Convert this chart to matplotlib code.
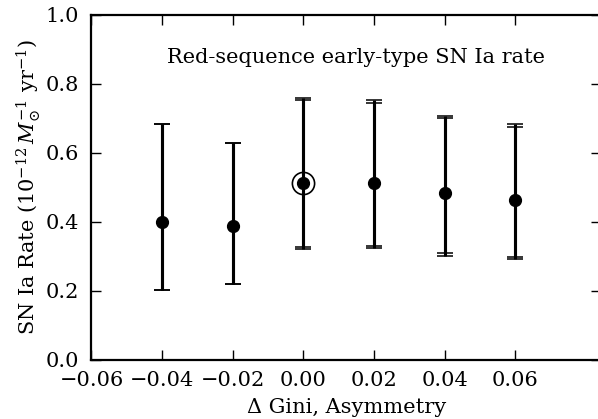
import matplotlib
matplotlib.use("Agg")
import matplotlib.pyplot as plt
import numpy as np

plt.rcParams['font.family'] = ['DejaVu Serif']
plt.rcParams['mathtext.fontset'] = 'dejavuserif'

# Data
x_vals = [-0.04, -0.02, 0.00, 0.02, 0.04, 0.06]
rate = [0.398, 0.388, 0.512, 0.511, 0.482, 0.463]
upper_a = [0.684, 0.627, 0.757, 0.753, 0.707, 0.682]
lower_a = [0.202, 0.219, 0.321, 0.322, 0.301, 0.291]
upper_b = [0.684, 0.627, 0.753, 0.745, 0.699, 0.674]
lower_b = [0.202, 0.219, 0.326, 0.330, 0.310, 0.298]
highlight_x = [0.00]
highlight_y = [0.512]

x_ticks = [-0.06, -0.04, -0.02, 0.00, 0.02, 0.04, 0.06]
y_ticks = [0.0, 0.2, 0.4, 0.6, 0.8, 1.0]

FS = 15

fig = plt.figure(figsize=(5.98, 4.19), dpi=100)
ax = fig.add_axes([0.153, 0.142, 0.852, 0.823])

r = np.array(rate)
for up, lo in [(upper_a, lower_a), (upper_b, lower_b)]:
    yerr = [r - np.array(lo), np.array(up) - r]
    ax.errorbar(x_vals, rate, yerr=yerr, fmt='none', ecolor='black',
                elinewidth=2.2, capsize=6, capthick=1.1, zorder=2)

ax.plot(x_vals, rate, 'o', color='black', markersize=8.5, zorder=3)
ax.plot(highlight_x, highlight_y, 'o', markerfacecolor='none',
        markeredgecolor='black', markeredgewidth=1.2, markersize=16, zorder=3)

ax.set_xlim(-0.06, 0.0842)
ax.set_ylim(0.0, 1.0)
ax.set_xticks(x_ticks)
ax.set_yticks(y_ticks)
ax.set_xticklabels(['\u22120.06', '\u22120.04', '\u22120.02', '0.00', '0.02', '0.04', '0.06'])
ax.set_yticklabels(['0.0', '0.2', '0.4', '0.6', '0.8', '1.0'])

ax.tick_params(direction='in', top=True, right=True, length=7, width=1.0,
               labelsize=FS)
ax.tick_params(axis='x', pad=8)
ax.tick_params(axis='y', pad=9)
for s in ax.spines.values():
    s.set_linewidth(1.6)

ax.set_xlabel('\u0394 Gini, Asymmetry', fontsize=FS, labelpad=6)
ax.set_ylabel(r'SN Ia Rate ($10^{-12}\,M_{\odot}^{-1}$ yr$^{-1}$)', fontsize=FS, labelpad=2)

ax.text(-0.0385, 0.876, 'Red-sequence early-type SN Ia rate', fontsize=FS,
        ha='left', va='center')

fig.savefig('out.png', dpi=100)
